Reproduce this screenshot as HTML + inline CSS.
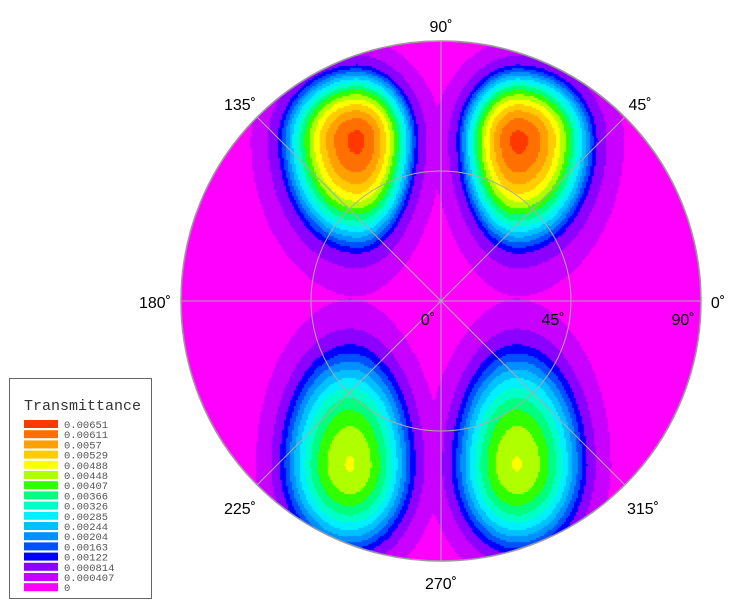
<!DOCTYPE html>
<html><head><meta charset="utf-8"><style>
body{margin:0;background:#fff;width:739px;height:613px;overflow:hidden;position:relative;font-family:"Liberation Sans",sans-serif}
canvas,svg{position:absolute;left:0;top:0}
</style></head><body>
<canvas id="cv" width="739" height="613"></canvas>
<svg id="ov" width="739" height="613"></svg>
<script>
// contour levels and colours
const levels=[0,0.000407,0.000814,0.00122,0.00163,0.00204,0.00244,0.00285,0.00326,0.00366,0.00407,0.00448,0.00488,0.00529,0.0057,0.00611,0.00651];
const colors=['#ff00ff','#c800ff','#8c00ff','#0000ff','#0050ff','#0090ff','#00c0ff','#00f0ff','#00ffc8','#00ff80','#30ff00','#b0ff00','#ffff00','#ffcc00','#ffa000','#ff7000','#ff3800'];
// blob data: peak positions (px), peak values, extents of the 0.00122 contour (left,right,up,down)
const blobX=[357,518,350,517];
const blobY=[140,140,465,465];
const blobPeak=[0.0066,0.0066,0.0049,0.0049];
const blobEL=[79,61,70,65];
const blobER=[61,79,65,70];
const blobEU=[75,75,120,120];
const blobED=[113,113,90,90];
const cx=441,cy=301,R=260,edge=0.00122;
const cv=document.getElementById('cv'),ctx=cv.getContext('2d');
function field(x,y){let v=0;for(let i=0;i<blobX.length;i++){const dx=x-blobX[i],dy=y-blobY[i];const sx=dx<0?blobEL[i]:blobER[i];const sy=dy<0?blobEU[i]:blobED[i];const d=Math.sqrt((dx/sx)**2+(dy/sy)**2);
let f;if(d<1)f=edge+(blobPeak[i]-edge)*Math.pow(1-d*d,1.1);else f=edge*Math.exp(-(d-1)*3.2);v=Math.max(v,f)+0.15*Math.min(v,f);}return v;}
function colorFor(v){let k=0;for(let i=0;i<levels.length;i++)if(v>=levels[i])k=i;return colors[k];}
for(let y=cy-R;y<=cy+R;y+=2){for(let x=cx-R;x<=cx+R;x+=2){if((x-cx)**2+(y-cy)**2>(R+2)*(R+2))continue;ctx.fillStyle=colorFor(field(x,y));ctx.fillRect(x-1,y-1,2,2);}}
ctx.globalCompositeOperation='destination-in';ctx.beginPath();ctx.arc(cx,cy,R,0,Math.PI*2);ctx.fill();ctx.globalCompositeOperation='source-over';
const ns='http://www.w3.org/2000/svg',sv=document.getElementById('ov');
function mk(t,a,txt){const e=document.createElementNS(ns,t);for(const k in a)e.setAttribute(k,a[k]);if(txt!==undefined)e.textContent=txt;sv.appendChild(e);return e;}
let e=mk('circle',{cx:cx,cy:cy,r:R,fill:'none',stroke:'#999','stroke-width':1.5});


e=mk('circle',{cx:cx,cy:cy,r:R/2,fill:'none',stroke:'#aaa','stroke-width':1});


const spokes=[0,45,90,135];
spokes.forEach(a=>{const r=a*Math.PI/180;const l=mk('line',{x1:cx-R*Math.cos(r),y1:cy+R*Math.sin(r),x2:cx+R*Math.cos(r),y2:cy-R*Math.sin(r),stroke:'#aaa','stroke-width':1});

});
const angLabels=['90˚','45˚','135˚','180˚','0˚','225˚','315˚','270˚','0˚','45˚','90˚'];
const angX=[441,640,240,155,718,240,643,441,428,553,683];
const angY=[32,110,110,308,308,514,514,589,325,325,325];
angLabels.forEach((t,i)=>{const l=mk('text',{x:angX[i],y:angY[i],'text-anchor':'middle','font-size':16,'font-family':'Liberation Sans, sans-serif',fill:'#000'},t);

});
const g=mk('g',{});


mk('rect',{x:9.5,y:378.5,width:142,height:220,fill:'#fff',stroke:'#666'});
mk('text',{x:24,y:410,'font-size':15,'font-family':'Liberation Mono, monospace',fill:'#333'},'Transmittance');
for(let i=levels.length-1;i>=0;i--){const row=levels.length-1-i;const y=420+row*10.2;
const b=mk('rect',{x:24,y:y,width:34,height:8,fill:colors[i]});


const t=mk('text',{x:64,y:y+8,'font-size':10.5,'font-family':'Liberation Mono, monospace',fill:'#555'},String(levels[i]));

}
</script>
</body></html>
